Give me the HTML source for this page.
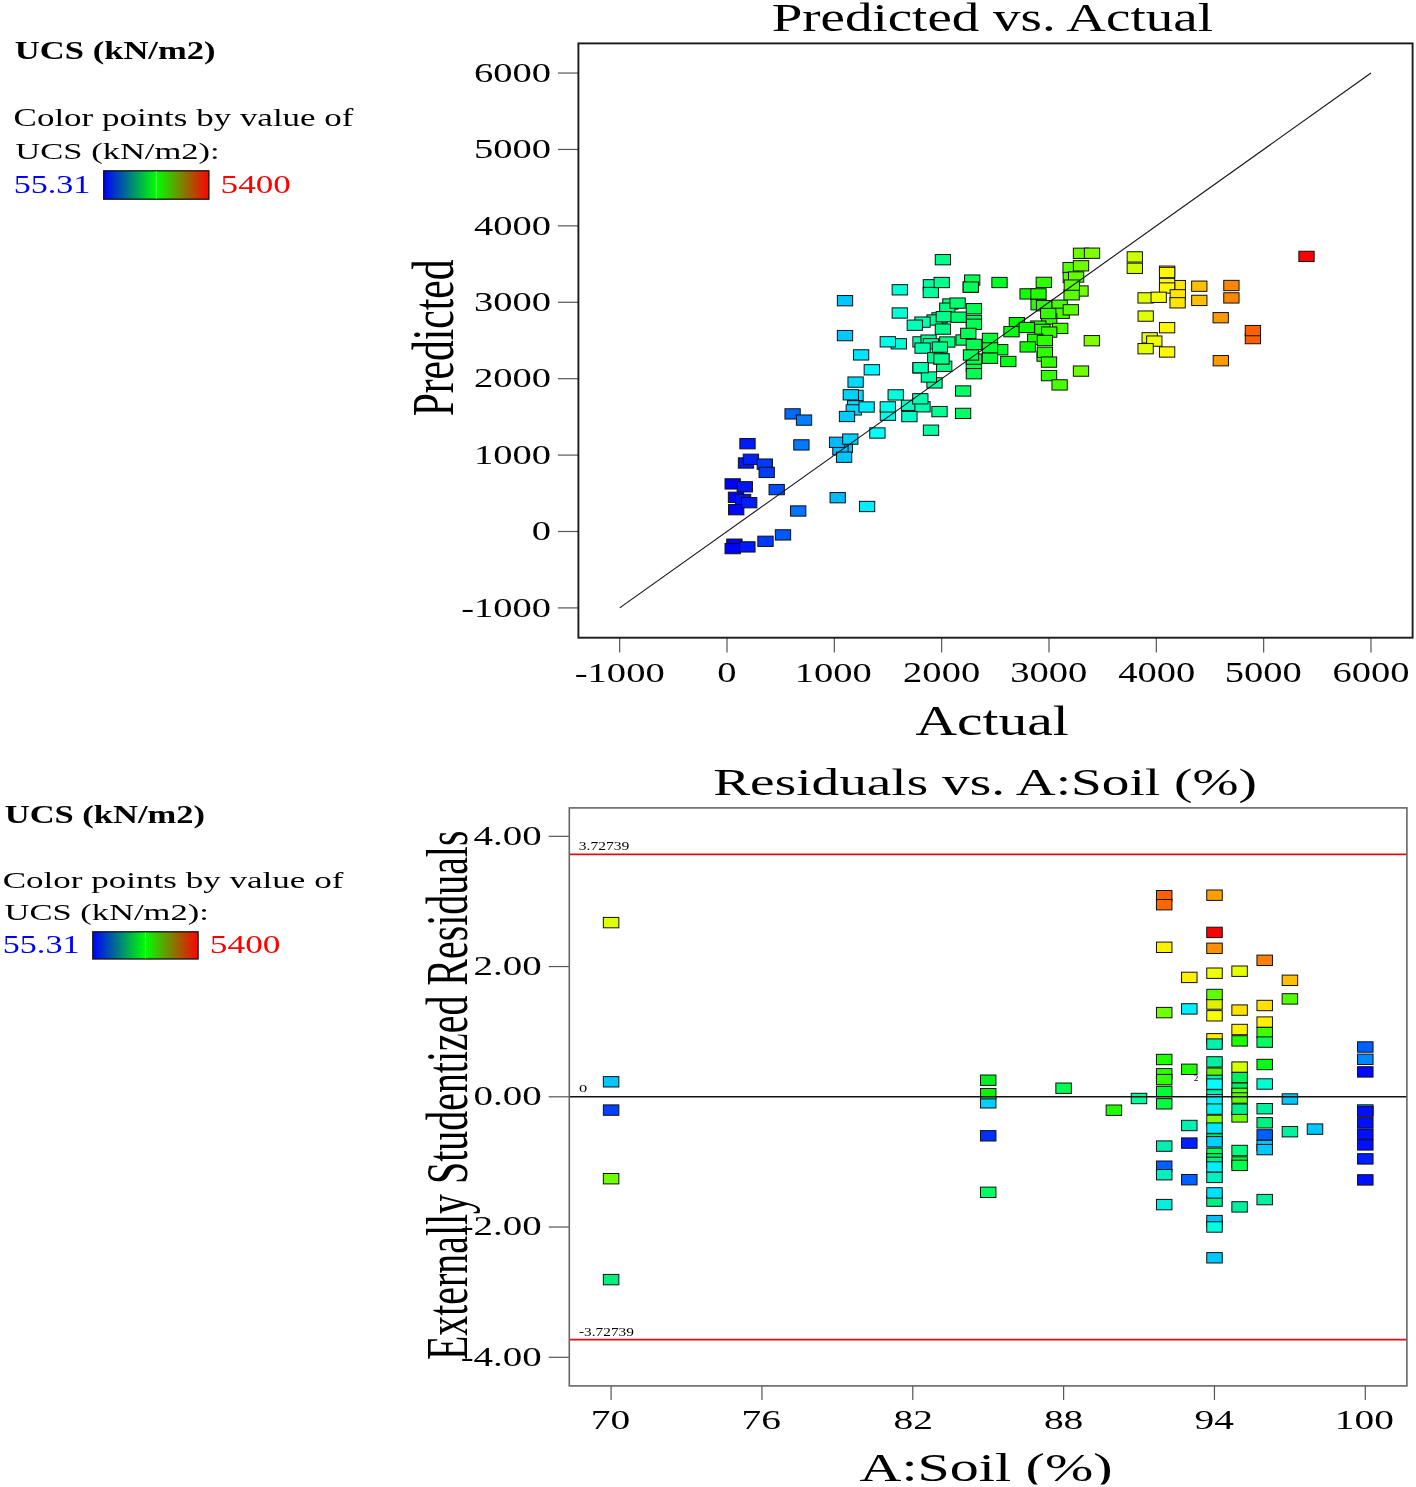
<!DOCTYPE html><html><head><meta charset="utf-8"><style>html,body{margin:0;padding:0;background:#fff;width:1416px;height:1487px;overflow:hidden}svg{display:block;will-change:transform}</style></head><body>
<svg width="1416" height="1487" viewBox="0 0 1416 1487">
<defs><linearGradient id="cb" x1="0" x2="1" y1="0" y2="0"><stop offset="0" stop-color="#0000ff"/><stop offset="0.5" stop-color="#00ff00"/><stop offset="1" stop-color="#ff0000"/></linearGradient><clipPath id="clipbot" clipPathUnits="userSpaceOnUse"><rect x="0" y="0" width="1416" height="1484.4"/></clipPath></defs>
<rect x="103.7" y="170.8" width="105.2" height="28.4" fill="url(#cb)" stroke="#111" stroke-width="1.3"/>
<line x1="156.3" y1="171.3" x2="156.3" y2="198.7" stroke="#66ff66" stroke-width="0.8"/>
<rect x="92.8" y="931.8" width="105.3" height="27.2" fill="url(#cb)" stroke="#111" stroke-width="1.3"/>
<line x1="145.4" y1="932.3" x2="145.4" y2="958.5" stroke="#66ff66" stroke-width="0.8"/>
<line x1="557.9" y1="607.91" x2="578" y2="607.91" stroke="#555" stroke-width="1.2"/>
<line x1="619.67" y1="637.5" x2="619.67" y2="652.4" stroke="#555" stroke-width="1.2"/>
<line x1="557.9" y1="531.50" x2="578" y2="531.50" stroke="#555" stroke-width="1.2"/>
<line x1="727.00" y1="637.5" x2="727.00" y2="652.4" stroke="#555" stroke-width="1.2"/>
<line x1="557.9" y1="455.09" x2="578" y2="455.09" stroke="#555" stroke-width="1.2"/>
<line x1="834.33" y1="637.5" x2="834.33" y2="652.4" stroke="#555" stroke-width="1.2"/>
<line x1="557.9" y1="378.68" x2="578" y2="378.68" stroke="#555" stroke-width="1.2"/>
<line x1="941.66" y1="637.5" x2="941.66" y2="652.4" stroke="#555" stroke-width="1.2"/>
<line x1="557.9" y1="302.27" x2="578" y2="302.27" stroke="#555" stroke-width="1.2"/>
<line x1="1048.99" y1="637.5" x2="1048.99" y2="652.4" stroke="#555" stroke-width="1.2"/>
<line x1="557.9" y1="225.86" x2="578" y2="225.86" stroke="#555" stroke-width="1.2"/>
<line x1="1156.32" y1="637.5" x2="1156.32" y2="652.4" stroke="#555" stroke-width="1.2"/>
<line x1="557.9" y1="149.45" x2="578" y2="149.45" stroke="#555" stroke-width="1.2"/>
<line x1="1263.65" y1="637.5" x2="1263.65" y2="652.4" stroke="#555" stroke-width="1.2"/>
<line x1="557.9" y1="73.04" x2="578" y2="73.04" stroke="#555" stroke-width="1.2"/>
<line x1="1370.98" y1="637.5" x2="1370.98" y2="652.4" stroke="#555" stroke-width="1.2"/>
<rect x="738.35" y="457.85" width="15.30" height="10.30" fill="#0017ff" stroke="#111" stroke-width="1"/>
<rect x="743.25" y="454.15" width="15.30" height="10.30" fill="#0020ff" stroke="#111" stroke-width="1"/>
<rect x="739.85" y="438.55" width="15.30" height="10.30" fill="#001aff" stroke="#111" stroke-width="1"/>
<rect x="757.15" y="458.95" width="15.30" height="10.30" fill="#0039ff" stroke="#111" stroke-width="1"/>
<rect x="759.05" y="467.25" width="15.30" height="10.30" fill="#003cff" stroke="#111" stroke-width="1"/>
<rect x="725.05" y="478.75" width="15.30" height="10.30" fill="#0000ff" stroke="#111" stroke-width="1"/>
<rect x="737.15" y="481.65" width="15.30" height="10.30" fill="#0015ff" stroke="#111" stroke-width="1"/>
<rect x="728.35" y="492.15" width="15.30" height="10.30" fill="#0005ff" stroke="#111" stroke-width="1"/>
<rect x="735.45" y="494.35" width="15.30" height="10.30" fill="#0012ff" stroke="#111" stroke-width="1"/>
<rect x="728.55" y="504.55" width="15.30" height="10.30" fill="#0006ff" stroke="#111" stroke-width="1"/>
<rect x="741.55" y="497.55" width="15.30" height="10.30" fill="#001dff" stroke="#111" stroke-width="1"/>
<rect x="769.05" y="484.45" width="15.30" height="10.30" fill="#004eff" stroke="#111" stroke-width="1"/>
<rect x="793.75" y="439.75" width="15.30" height="10.30" fill="#007aff" stroke="#111" stroke-width="1"/>
<rect x="790.55" y="505.85" width="15.30" height="10.30" fill="#0074ff" stroke="#111" stroke-width="1"/>
<rect x="726.75" y="539.05" width="15.30" height="10.30" fill="#0003ff" stroke="#111" stroke-width="1"/>
<rect x="725.05" y="543.45" width="15.30" height="10.30" fill="#0000ff" stroke="#111" stroke-width="1"/>
<rect x="739.75" y="541.75" width="15.30" height="10.30" fill="#001aff" stroke="#111" stroke-width="1"/>
<rect x="757.85" y="536.15" width="15.30" height="10.30" fill="#003aff" stroke="#111" stroke-width="1"/>
<rect x="775.35" y="529.75" width="15.30" height="10.30" fill="#0059ff" stroke="#111" stroke-width="1"/>
<rect x="830.05" y="492.55" width="15.30" height="10.30" fill="#00baff" stroke="#111" stroke-width="1"/>
<rect x="859.45" y="501.35" width="15.30" height="10.30" fill="#00efff" stroke="#111" stroke-width="1"/>
<rect x="784.95" y="408.75" width="15.30" height="10.30" fill="#006aff" stroke="#111" stroke-width="1"/>
<rect x="796.35" y="414.95" width="15.30" height="10.30" fill="#007eff" stroke="#111" stroke-width="1"/>
<rect x="853.45" y="349.75" width="15.30" height="10.30" fill="#00e4ff" stroke="#111" stroke-width="1"/>
<rect x="864.15" y="364.65" width="15.30" height="10.30" fill="#00f7ff" stroke="#111" stroke-width="1"/>
<rect x="847.95" y="376.95" width="15.30" height="10.30" fill="#00daff" stroke="#111" stroke-width="1"/>
<rect x="847.85" y="390.25" width="15.30" height="10.30" fill="#00daff" stroke="#111" stroke-width="1"/>
<rect x="847.55" y="400.65" width="15.30" height="10.30" fill="#00d9ff" stroke="#111" stroke-width="1"/>
<rect x="843.15" y="389.65" width="15.30" height="10.30" fill="#00d2ff" stroke="#111" stroke-width="1"/>
<rect x="846.15" y="404.75" width="15.30" height="10.30" fill="#00d7ff" stroke="#111" stroke-width="1"/>
<rect x="858.95" y="401.85" width="15.30" height="10.30" fill="#00eeff" stroke="#111" stroke-width="1"/>
<rect x="839.35" y="411.35" width="15.30" height="10.30" fill="#00cbff" stroke="#111" stroke-width="1"/>
<rect x="837.15" y="442.15" width="15.30" height="10.30" fill="#00c7ff" stroke="#111" stroke-width="1"/>
<rect x="832.75" y="444.65" width="15.30" height="10.30" fill="#00bfff" stroke="#111" stroke-width="1"/>
<rect x="829.45" y="437.15" width="15.30" height="10.30" fill="#00b9ff" stroke="#111" stroke-width="1"/>
<rect x="842.65" y="433.95" width="15.30" height="10.30" fill="#00d1ff" stroke="#111" stroke-width="1"/>
<rect x="836.45" y="452.05" width="15.30" height="10.30" fill="#00c6ff" stroke="#111" stroke-width="1"/>
<rect x="869.75" y="427.85" width="15.30" height="10.30" fill="#00fffd" stroke="#111" stroke-width="1"/>
<rect x="888.05" y="389.75" width="15.30" height="10.30" fill="#00ffdd" stroke="#111" stroke-width="1"/>
<rect x="880.25" y="410.05" width="15.30" height="10.30" fill="#00ffea" stroke="#111" stroke-width="1"/>
<rect x="880.15" y="401.75" width="15.30" height="10.30" fill="#00ffeb" stroke="#111" stroke-width="1"/>
<rect x="901.35" y="400.15" width="15.30" height="10.30" fill="#00ffc5" stroke="#111" stroke-width="1"/>
<rect x="914.85" y="401.65" width="15.30" height="10.30" fill="#00ffad" stroke="#111" stroke-width="1"/>
<rect x="912.65" y="393.65" width="15.30" height="10.30" fill="#00ffb1" stroke="#111" stroke-width="1"/>
<rect x="901.75" y="411.45" width="15.30" height="10.30" fill="#00ffc4" stroke="#111" stroke-width="1"/>
<rect x="931.85" y="406.45" width="15.30" height="10.30" fill="#00ff8f" stroke="#111" stroke-width="1"/>
<rect x="923.35" y="425.05" width="15.30" height="10.30" fill="#00ff9e" stroke="#111" stroke-width="1"/>
<rect x="912.85" y="362.75" width="15.30" height="10.30" fill="#00ffb0" stroke="#111" stroke-width="1"/>
<rect x="926.85" y="377.75" width="15.30" height="10.30" fill="#00ff98" stroke="#111" stroke-width="1"/>
<rect x="921.25" y="371.85" width="15.30" height="10.30" fill="#00ffa2" stroke="#111" stroke-width="1"/>
<rect x="936.55" y="361.15" width="15.30" height="10.30" fill="#00ff86" stroke="#111" stroke-width="1"/>
<rect x="933.55" y="353.65" width="15.30" height="10.30" fill="#00ff8c" stroke="#111" stroke-width="1"/>
<rect x="992.55" y="344.55" width="15.30" height="10.30" fill="#00ff23" stroke="#111" stroke-width="1"/>
<rect x="935.25" y="254.55" width="15.30" height="10.30" fill="#00ff89" stroke="#111" stroke-width="1"/>
<rect x="837.35" y="295.55" width="15.30" height="10.30" fill="#00c7ff" stroke="#111" stroke-width="1"/>
<rect x="837.35" y="330.45" width="15.30" height="10.30" fill="#00c7ff" stroke="#111" stroke-width="1"/>
<rect x="892.15" y="284.65" width="15.30" height="10.30" fill="#00ffd5" stroke="#111" stroke-width="1"/>
<rect x="892.15" y="307.85" width="15.30" height="10.30" fill="#00ffd5" stroke="#111" stroke-width="1"/>
<rect x="891.15" y="338.65" width="15.30" height="10.30" fill="#00ffd7" stroke="#111" stroke-width="1"/>
<rect x="880.15" y="336.65" width="15.30" height="10.30" fill="#00ffeb" stroke="#111" stroke-width="1"/>
<rect x="923.25" y="279.65" width="15.30" height="10.30" fill="#00ff9e" stroke="#111" stroke-width="1"/>
<rect x="923.15" y="287.35" width="15.30" height="10.30" fill="#00ff9e" stroke="#111" stroke-width="1"/>
<rect x="934.05" y="277.35" width="15.30" height="10.30" fill="#00ff8b" stroke="#111" stroke-width="1"/>
<rect x="963.15" y="281.95" width="15.30" height="10.30" fill="#00ff57" stroke="#111" stroke-width="1"/>
<rect x="942.75" y="298.85" width="15.30" height="10.30" fill="#00ff7b" stroke="#111" stroke-width="1"/>
<rect x="939.65" y="303.05" width="15.30" height="10.30" fill="#00ff81" stroke="#111" stroke-width="1"/>
<rect x="949.95" y="297.95" width="15.30" height="10.30" fill="#00ff6f" stroke="#111" stroke-width="1"/>
<rect x="966.25" y="315.25" width="15.30" height="10.30" fill="#00ff52" stroke="#111" stroke-width="1"/>
<rect x="966.25" y="303.55" width="15.30" height="10.30" fill="#00ff52" stroke="#111" stroke-width="1"/>
<rect x="966.25" y="319.15" width="15.30" height="10.30" fill="#00ff52" stroke="#111" stroke-width="1"/>
<rect x="931.85" y="312.75" width="15.30" height="10.30" fill="#00ff8f" stroke="#111" stroke-width="1"/>
<rect x="926.95" y="314.85" width="15.30" height="10.30" fill="#00ff97" stroke="#111" stroke-width="1"/>
<rect x="914.85" y="316.95" width="15.30" height="10.30" fill="#00ffad" stroke="#111" stroke-width="1"/>
<rect x="907.15" y="320.05" width="15.30" height="10.30" fill="#00ffbb" stroke="#111" stroke-width="1"/>
<rect x="936.15" y="311.55" width="15.30" height="10.30" fill="#00ff87" stroke="#111" stroke-width="1"/>
<rect x="950.95" y="312.05" width="15.30" height="10.30" fill="#00ff6d" stroke="#111" stroke-width="1"/>
<rect x="935.25" y="323.95" width="15.30" height="10.30" fill="#00ff89" stroke="#111" stroke-width="1"/>
<rect x="955.95" y="334.85" width="15.30" height="10.30" fill="#00ff64" stroke="#111" stroke-width="1"/>
<rect x="960.65" y="328.25" width="15.30" height="10.30" fill="#00ff5b" stroke="#111" stroke-width="1"/>
<rect x="982.35" y="333.25" width="15.30" height="10.30" fill="#00ff35" stroke="#111" stroke-width="1"/>
<rect x="982.35" y="342.75" width="15.30" height="10.30" fill="#00ff35" stroke="#111" stroke-width="1"/>
<rect x="982.35" y="353.05" width="15.30" height="10.30" fill="#00ff35" stroke="#111" stroke-width="1"/>
<rect x="966.15" y="339.25" width="15.30" height="10.30" fill="#00ff52" stroke="#111" stroke-width="1"/>
<rect x="912.85" y="336.75" width="15.30" height="10.30" fill="#00ffb0" stroke="#111" stroke-width="1"/>
<rect x="920.95" y="334.95" width="15.30" height="10.30" fill="#00ffa2" stroke="#111" stroke-width="1"/>
<rect x="939.65" y="336.85" width="15.30" height="10.30" fill="#00ff81" stroke="#111" stroke-width="1"/>
<rect x="923.25" y="338.65" width="15.30" height="10.30" fill="#00ff9e" stroke="#111" stroke-width="1"/>
<rect x="914.95" y="342.95" width="15.30" height="10.30" fill="#00ffad" stroke="#111" stroke-width="1"/>
<rect x="932.25" y="341.95" width="15.30" height="10.30" fill="#00ff8e" stroke="#111" stroke-width="1"/>
<rect x="927.65" y="352.65" width="15.30" height="10.30" fill="#00ff96" stroke="#111" stroke-width="1"/>
<rect x="933.85" y="353.75" width="15.30" height="10.30" fill="#00ff8b" stroke="#111" stroke-width="1"/>
<rect x="966.15" y="361.15" width="15.30" height="10.30" fill="#00ff52" stroke="#111" stroke-width="1"/>
<rect x="912.95" y="362.55" width="15.30" height="10.30" fill="#00ffb0" stroke="#111" stroke-width="1"/>
<rect x="964.55" y="274.95" width="15.30" height="10.30" fill="#00ff55" stroke="#111" stroke-width="1"/>
<rect x="963.15" y="281.95" width="15.30" height="10.30" fill="#00ff57" stroke="#111" stroke-width="1"/>
<rect x="991.85" y="277.35" width="15.30" height="10.30" fill="#00ff24" stroke="#111" stroke-width="1"/>
<rect x="1036.15" y="277.25" width="15.30" height="10.30" fill="#2bff00" stroke="#111" stroke-width="1"/>
<rect x="1019.95" y="288.75" width="15.30" height="10.30" fill="#0eff00" stroke="#111" stroke-width="1"/>
<rect x="1030.95" y="299.55" width="15.30" height="10.30" fill="#22ff00" stroke="#111" stroke-width="1"/>
<rect x="1030.85" y="288.75" width="15.30" height="10.30" fill="#21ff00" stroke="#111" stroke-width="1"/>
<rect x="1036.45" y="300.55" width="15.30" height="10.30" fill="#2bff00" stroke="#111" stroke-width="1"/>
<rect x="1052.05" y="300.05" width="15.30" height="10.30" fill="#47ff00" stroke="#111" stroke-width="1"/>
<rect x="1054.05" y="308.15" width="15.30" height="10.30" fill="#4bff00" stroke="#111" stroke-width="1"/>
<rect x="1063.15" y="304.65" width="15.30" height="10.30" fill="#5bff00" stroke="#111" stroke-width="1"/>
<rect x="1041.55" y="313.85" width="15.30" height="10.30" fill="#34ff00" stroke="#111" stroke-width="1"/>
<rect x="1040.55" y="308.35" width="15.30" height="10.30" fill="#33ff00" stroke="#111" stroke-width="1"/>
<rect x="1009.25" y="317.55" width="15.30" height="10.30" fill="#00ff05" stroke="#111" stroke-width="1"/>
<rect x="1030.65" y="320.95" width="15.30" height="10.30" fill="#21ff00" stroke="#111" stroke-width="1"/>
<rect x="1034.75" y="324.25" width="15.30" height="10.30" fill="#28ff00" stroke="#111" stroke-width="1"/>
<rect x="1003.85" y="326.55" width="15.30" height="10.30" fill="#00ff0f" stroke="#111" stroke-width="1"/>
<rect x="1019.15" y="322.35" width="15.30" height="10.30" fill="#0dff00" stroke="#111" stroke-width="1"/>
<rect x="1052.55" y="323.25" width="15.30" height="10.30" fill="#48ff00" stroke="#111" stroke-width="1"/>
<rect x="1041.55" y="326.95" width="15.30" height="10.30" fill="#34ff00" stroke="#111" stroke-width="1"/>
<rect x="1027.55" y="334.15" width="15.30" height="10.30" fill="#1bff00" stroke="#111" stroke-width="1"/>
<rect x="1037.25" y="335.35" width="15.30" height="10.30" fill="#2dff00" stroke="#111" stroke-width="1"/>
<rect x="1020.05" y="341.75" width="15.30" height="10.30" fill="#0eff00" stroke="#111" stroke-width="1"/>
<rect x="1036.95" y="350.95" width="15.30" height="10.30" fill="#2cff00" stroke="#111" stroke-width="1"/>
<rect x="1037.25" y="347.15" width="15.30" height="10.30" fill="#2dff00" stroke="#111" stroke-width="1"/>
<rect x="1062.95" y="262.45" width="15.30" height="10.30" fill="#5aff00" stroke="#111" stroke-width="1"/>
<rect x="1063.15" y="272.35" width="15.30" height="10.30" fill="#5bff00" stroke="#111" stroke-width="1"/>
<rect x="1073.35" y="248.15" width="15.30" height="10.30" fill="#6dff00" stroke="#111" stroke-width="1"/>
<rect x="1084.35" y="248.05" width="15.30" height="10.30" fill="#80ff00" stroke="#111" stroke-width="1"/>
<rect x="1073.35" y="260.65" width="15.30" height="10.30" fill="#6dff00" stroke="#111" stroke-width="1"/>
<rect x="1068.45" y="271.85" width="15.30" height="10.30" fill="#64ff00" stroke="#111" stroke-width="1"/>
<rect x="1072.85" y="285.85" width="15.30" height="10.30" fill="#6cff00" stroke="#111" stroke-width="1"/>
<rect x="1063.95" y="289.65" width="15.30" height="10.30" fill="#5cff00" stroke="#111" stroke-width="1"/>
<rect x="1064.15" y="279.95" width="15.30" height="10.30" fill="#5dff00" stroke="#111" stroke-width="1"/>
<rect x="966.25" y="353.95" width="15.30" height="10.30" fill="#00ff52" stroke="#111" stroke-width="1"/>
<rect x="966.25" y="368.55" width="15.30" height="10.30" fill="#00ff52" stroke="#111" stroke-width="1"/>
<rect x="963.35" y="349.85" width="15.30" height="10.30" fill="#00ff57" stroke="#111" stroke-width="1"/>
<rect x="1000.65" y="356.35" width="15.30" height="10.30" fill="#00ff14" stroke="#111" stroke-width="1"/>
<rect x="1041.35" y="356.95" width="15.30" height="10.30" fill="#34ff00" stroke="#111" stroke-width="1"/>
<rect x="1041.35" y="370.45" width="15.30" height="10.30" fill="#34ff00" stroke="#111" stroke-width="1"/>
<rect x="1051.95" y="379.75" width="15.30" height="10.30" fill="#47ff00" stroke="#111" stroke-width="1"/>
<rect x="1073.35" y="365.95" width="15.30" height="10.30" fill="#6dff00" stroke="#111" stroke-width="1"/>
<rect x="955.45" y="385.85" width="15.30" height="10.30" fill="#00ff65" stroke="#111" stroke-width="1"/>
<rect x="955.45" y="408.25" width="15.30" height="10.30" fill="#00ff65" stroke="#111" stroke-width="1"/>
<rect x="1084.15" y="335.55" width="15.30" height="10.30" fill="#80ff00" stroke="#111" stroke-width="1"/>
<rect x="1127.15" y="251.75" width="15.30" height="10.30" fill="#cdff00" stroke="#111" stroke-width="1"/>
<rect x="1127.15" y="263.15" width="15.30" height="10.30" fill="#cdff00" stroke="#111" stroke-width="1"/>
<rect x="1170.15" y="280.45" width="15.30" height="10.30" fill="#ffe500" stroke="#111" stroke-width="1"/>
<rect x="1159.45" y="266.05" width="15.30" height="10.30" fill="#fff800" stroke="#111" stroke-width="1"/>
<rect x="1159.45" y="267.35" width="15.30" height="10.30" fill="#fff800" stroke="#111" stroke-width="1"/>
<rect x="1159.45" y="278.35" width="15.30" height="10.30" fill="#fff800" stroke="#111" stroke-width="1"/>
<rect x="1159.45" y="282.85" width="15.30" height="10.30" fill="#fff800" stroke="#111" stroke-width="1"/>
<rect x="1170.15" y="289.65" width="15.30" height="10.30" fill="#ffe500" stroke="#111" stroke-width="1"/>
<rect x="1169.95" y="297.65" width="15.30" height="10.30" fill="#ffe500" stroke="#111" stroke-width="1"/>
<rect x="1191.65" y="281.05" width="15.30" height="10.30" fill="#ffbf00" stroke="#111" stroke-width="1"/>
<rect x="1191.65" y="295.25" width="15.30" height="10.30" fill="#ffbf00" stroke="#111" stroke-width="1"/>
<rect x="1137.95" y="292.75" width="15.30" height="10.30" fill="#e0ff00" stroke="#111" stroke-width="1"/>
<rect x="1151.05" y="292.15" width="15.30" height="10.30" fill="#f7ff00" stroke="#111" stroke-width="1"/>
<rect x="1138.05" y="310.95" width="15.30" height="10.30" fill="#e0ff00" stroke="#111" stroke-width="1"/>
<rect x="1159.45" y="322.55" width="15.30" height="10.30" fill="#fff800" stroke="#111" stroke-width="1"/>
<rect x="1142.05" y="332.65" width="15.30" height="10.30" fill="#e7ff00" stroke="#111" stroke-width="1"/>
<rect x="1146.65" y="335.95" width="15.30" height="10.30" fill="#efff00" stroke="#111" stroke-width="1"/>
<rect x="1137.95" y="343.55" width="15.30" height="10.30" fill="#e0ff00" stroke="#111" stroke-width="1"/>
<rect x="1159.45" y="346.85" width="15.30" height="10.30" fill="#fff800" stroke="#111" stroke-width="1"/>
<rect x="1213.15" y="355.55" width="15.30" height="10.30" fill="#ff9900" stroke="#111" stroke-width="1"/>
<rect x="1245.25" y="333.45" width="15.30" height="10.30" fill="#ff5f00" stroke="#111" stroke-width="1"/>
<rect x="1245.25" y="325.45" width="15.30" height="10.30" fill="#ff5f00" stroke="#111" stroke-width="1"/>
<rect x="1298.85" y="251.25" width="15.30" height="10.30" fill="#ff0000" stroke="#111" stroke-width="1"/>
<rect x="1223.75" y="280.35" width="15.30" height="10.30" fill="#ff8600" stroke="#111" stroke-width="1"/>
<rect x="1223.75" y="292.75" width="15.30" height="10.30" fill="#ff8600" stroke="#111" stroke-width="1"/>
<rect x="1213.05" y="312.55" width="15.30" height="10.30" fill="#ff9900" stroke="#111" stroke-width="1"/>
<line x1="619.67" y1="607.91" x2="1370.98" y2="73.04" stroke="#111" stroke-width="1.1"/>
<rect x="578.4" y="43.4" width="834.2" height="594.3" fill="none" stroke="#1a1a1a" stroke-width="1.9"/>
<line x1="548.7" y1="836.32" x2="569" y2="836.32" stroke="#555" stroke-width="1.2"/>
<line x1="548.7" y1="966.56" x2="569" y2="966.56" stroke="#555" stroke-width="1.2"/>
<line x1="548.7" y1="1096.80" x2="569" y2="1096.80" stroke="#555" stroke-width="1.2"/>
<line x1="548.7" y1="1227.04" x2="569" y2="1227.04" stroke="#555" stroke-width="1.2"/>
<line x1="548.7" y1="1357.28" x2="569" y2="1357.28" stroke="#555" stroke-width="1.2"/>
<line x1="611.10" y1="1386" x2="611.10" y2="1400" stroke="#555" stroke-width="1.2"/>
<line x1="761.94" y1="1386" x2="761.94" y2="1400" stroke="#555" stroke-width="1.2"/>
<line x1="912.78" y1="1386" x2="912.78" y2="1400" stroke="#555" stroke-width="1.2"/>
<line x1="1063.62" y1="1386" x2="1063.62" y2="1400" stroke="#555" stroke-width="1.2"/>
<line x1="1214.46" y1="1386" x2="1214.46" y2="1400" stroke="#555" stroke-width="1.2"/>
<line x1="1365.30" y1="1386" x2="1365.30" y2="1400" stroke="#555" stroke-width="1.2"/>
<rect x="603.35" y="917.40" width="15.50" height="10.40" fill="#e0ff00" stroke="#111" stroke-width="1"/>
<rect x="603.35" y="1076.60" width="15.50" height="10.40" fill="#00c8ff" stroke="#111" stroke-width="1"/>
<rect x="603.35" y="1104.90" width="15.50" height="10.40" fill="#0040ff" stroke="#111" stroke-width="1"/>
<rect x="603.35" y="1173.50" width="15.50" height="10.40" fill="#70ff00" stroke="#111" stroke-width="1"/>
<rect x="603.35" y="1274.40" width="15.50" height="10.40" fill="#00f080" stroke="#111" stroke-width="1"/>
<rect x="980.45" y="1075.00" width="15.50" height="10.40" fill="#00f020" stroke="#111" stroke-width="1"/>
<rect x="980.45" y="1097.60" width="15.50" height="10.40" fill="#00d0ff" stroke="#111" stroke-width="1"/>
<rect x="980.45" y="1088.50" width="15.50" height="10.40" fill="#10f000" stroke="#111" stroke-width="1"/>
<rect x="980.45" y="1130.60" width="15.50" height="10.40" fill="#0030ff" stroke="#111" stroke-width="1"/>
<rect x="980.45" y="1187.10" width="15.50" height="10.40" fill="#00ff60" stroke="#111" stroke-width="1"/>
<rect x="1055.85" y="1083.00" width="15.50" height="10.40" fill="#00ff50" stroke="#111" stroke-width="1"/>
<rect x="1106.15" y="1105.00" width="15.50" height="10.40" fill="#20ff00" stroke="#111" stroke-width="1"/>
<rect x="1131.25" y="1093.30" width="15.50" height="10.40" fill="#00ffa0" stroke="#111" stroke-width="1"/>
<rect x="1156.45" y="890.50" width="15.50" height="10.40" fill="#ff6000" stroke="#111" stroke-width="1"/>
<rect x="1156.45" y="899.50" width="15.50" height="10.40" fill="#ff6600" stroke="#111" stroke-width="1"/>
<rect x="1156.45" y="942.10" width="15.50" height="10.40" fill="#fff000" stroke="#111" stroke-width="1"/>
<rect x="1156.45" y="1007.40" width="15.50" height="10.40" fill="#70ff00" stroke="#111" stroke-width="1"/>
<rect x="1156.45" y="1054.30" width="15.50" height="10.40" fill="#20ff00" stroke="#111" stroke-width="1"/>
<rect x="1156.45" y="1068.60" width="15.50" height="10.40" fill="#30ff00" stroke="#111" stroke-width="1"/>
<rect x="1156.45" y="1074.40" width="15.50" height="10.40" fill="#30ff00" stroke="#111" stroke-width="1"/>
<rect x="1156.45" y="1086.30" width="15.50" height="10.40" fill="#00ff30" stroke="#111" stroke-width="1"/>
<rect x="1156.45" y="1098.60" width="15.50" height="10.40" fill="#00ff40" stroke="#111" stroke-width="1"/>
<rect x="1156.45" y="1140.90" width="15.50" height="10.40" fill="#00f0b0" stroke="#111" stroke-width="1"/>
<rect x="1156.45" y="1161.00" width="15.50" height="10.40" fill="#0060ff" stroke="#111" stroke-width="1"/>
<rect x="1156.45" y="1169.50" width="15.50" height="10.40" fill="#00f0c0" stroke="#111" stroke-width="1"/>
<rect x="1156.45" y="1199.40" width="15.50" height="10.40" fill="#00f0e0" stroke="#111" stroke-width="1"/>
<rect x="1181.55" y="972.20" width="15.50" height="10.40" fill="#fff000" stroke="#111" stroke-width="1"/>
<rect x="1181.55" y="1003.70" width="15.50" height="10.40" fill="#00f0ff" stroke="#111" stroke-width="1"/>
<rect x="1181.55" y="1064.10" width="15.50" height="10.40" fill="#20ff00" stroke="#111" stroke-width="1"/>
<rect x="1181.55" y="1120.30" width="15.50" height="10.40" fill="#00f0b0" stroke="#111" stroke-width="1"/>
<rect x="1181.55" y="1137.90" width="15.50" height="10.40" fill="#0020ff" stroke="#111" stroke-width="1"/>
<rect x="1181.55" y="1174.50" width="15.50" height="10.40" fill="#0060ff" stroke="#111" stroke-width="1"/>
<rect x="1206.75" y="890.00" width="15.50" height="10.40" fill="#ffa000" stroke="#111" stroke-width="1"/>
<rect x="1206.75" y="927.20" width="15.50" height="10.40" fill="#ff0000" stroke="#111" stroke-width="1"/>
<rect x="1206.75" y="943.10" width="15.50" height="10.40" fill="#ff9000" stroke="#111" stroke-width="1"/>
<rect x="1206.75" y="968.00" width="15.50" height="10.40" fill="#f0ff00" stroke="#111" stroke-width="1"/>
<rect x="1206.75" y="998.80" width="15.50" height="10.40" fill="#e0f000" stroke="#111" stroke-width="1"/>
<rect x="1206.75" y="989.30" width="15.50" height="10.40" fill="#60ff00" stroke="#111" stroke-width="1"/>
<rect x="1206.75" y="1010.60" width="15.50" height="10.40" fill="#f8ff00" stroke="#111" stroke-width="1"/>
<rect x="1206.75" y="1033.60" width="15.50" height="10.40" fill="#ffee00" stroke="#111" stroke-width="1"/>
<rect x="1206.75" y="1038.90" width="15.50" height="10.40" fill="#00f0b0" stroke="#111" stroke-width="1"/>
<rect x="1206.75" y="1056.70" width="15.50" height="10.40" fill="#00f0a0" stroke="#111" stroke-width="1"/>
<rect x="1206.75" y="1068.00" width="15.50" height="10.40" fill="#60f000" stroke="#111" stroke-width="1"/>
<rect x="1206.75" y="1075.20" width="15.50" height="10.40" fill="#00f0b0" stroke="#111" stroke-width="1"/>
<rect x="1206.75" y="1078.90" width="15.50" height="10.40" fill="#00ffff" stroke="#111" stroke-width="1"/>
<rect x="1206.75" y="1089.70" width="15.50" height="10.40" fill="#00f0b0" stroke="#111" stroke-width="1"/>
<rect x="1206.75" y="1094.50" width="15.50" height="10.40" fill="#00f0ff" stroke="#111" stroke-width="1"/>
<rect x="1206.75" y="1103.90" width="15.50" height="10.40" fill="#00f0f0" stroke="#111" stroke-width="1"/>
<rect x="1206.75" y="1115.20" width="15.50" height="10.40" fill="#80ff00" stroke="#111" stroke-width="1"/>
<rect x="1206.75" y="1122.90" width="15.50" height="10.40" fill="#00e8ff" stroke="#111" stroke-width="1"/>
<rect x="1206.75" y="1133.80" width="15.50" height="10.40" fill="#00f060" stroke="#111" stroke-width="1"/>
<rect x="1206.75" y="1136.60" width="15.50" height="10.40" fill="#00d0ff" stroke="#111" stroke-width="1"/>
<rect x="1206.75" y="1148.10" width="15.50" height="10.40" fill="#00ff50" stroke="#111" stroke-width="1"/>
<rect x="1206.75" y="1153.60" width="15.50" height="10.40" fill="#00f060" stroke="#111" stroke-width="1"/>
<rect x="1206.75" y="1157.20" width="15.50" height="10.40" fill="#00f080" stroke="#111" stroke-width="1"/>
<rect x="1206.75" y="1161.80" width="15.50" height="10.40" fill="#00f0ff" stroke="#111" stroke-width="1"/>
<rect x="1206.75" y="1172.20" width="15.50" height="10.40" fill="#00f0c0" stroke="#111" stroke-width="1"/>
<rect x="1206.75" y="1195.90" width="15.50" height="10.40" fill="#00f080" stroke="#111" stroke-width="1"/>
<rect x="1206.75" y="1187.70" width="15.50" height="10.40" fill="#00e0ff" stroke="#111" stroke-width="1"/>
<rect x="1206.75" y="1215.40" width="15.50" height="10.40" fill="#00c0ff" stroke="#111" stroke-width="1"/>
<rect x="1206.75" y="1221.80" width="15.50" height="10.40" fill="#00ffe0" stroke="#111" stroke-width="1"/>
<rect x="1206.75" y="1252.60" width="15.50" height="10.40" fill="#00c8ff" stroke="#111" stroke-width="1"/>
<rect x="1231.85" y="966.00" width="15.50" height="10.40" fill="#e8ff00" stroke="#111" stroke-width="1"/>
<rect x="1231.85" y="1004.90" width="15.50" height="10.40" fill="#ffe000" stroke="#111" stroke-width="1"/>
<rect x="1231.85" y="1024.30" width="15.50" height="10.40" fill="#fff000" stroke="#111" stroke-width="1"/>
<rect x="1231.85" y="1035.70" width="15.50" height="10.40" fill="#20ff00" stroke="#111" stroke-width="1"/>
<rect x="1231.85" y="1061.90" width="15.50" height="10.40" fill="#d8ff00" stroke="#111" stroke-width="1"/>
<rect x="1231.85" y="1072.40" width="15.50" height="10.40" fill="#00f060" stroke="#111" stroke-width="1"/>
<rect x="1231.85" y="1083.00" width="15.50" height="10.40" fill="#00f060" stroke="#111" stroke-width="1"/>
<rect x="1231.85" y="1088.20" width="15.50" height="10.40" fill="#60ff00" stroke="#111" stroke-width="1"/>
<rect x="1231.85" y="1092.80" width="15.50" height="10.40" fill="#60ff00" stroke="#111" stroke-width="1"/>
<rect x="1231.85" y="1111.70" width="15.50" height="10.40" fill="#70ff00" stroke="#111" stroke-width="1"/>
<rect x="1231.85" y="1104.00" width="15.50" height="10.40" fill="#00f090" stroke="#111" stroke-width="1"/>
<rect x="1231.85" y="1145.30" width="15.50" height="10.40" fill="#00ff80" stroke="#111" stroke-width="1"/>
<rect x="1231.85" y="1156.80" width="15.50" height="10.40" fill="#00ff30" stroke="#111" stroke-width="1"/>
<rect x="1231.85" y="1160.20" width="15.50" height="10.40" fill="#00ff50" stroke="#111" stroke-width="1"/>
<rect x="1231.85" y="1201.70" width="15.50" height="10.40" fill="#00f0a0" stroke="#111" stroke-width="1"/>
<rect x="1256.95" y="955.10" width="15.50" height="10.40" fill="#ff8000" stroke="#111" stroke-width="1"/>
<rect x="1256.95" y="1000.30" width="15.50" height="10.40" fill="#ffe000" stroke="#111" stroke-width="1"/>
<rect x="1256.95" y="1016.90" width="15.50" height="10.40" fill="#fff000" stroke="#111" stroke-width="1"/>
<rect x="1256.95" y="1027.40" width="15.50" height="10.40" fill="#40ff00" stroke="#111" stroke-width="1"/>
<rect x="1256.95" y="1036.90" width="15.50" height="10.40" fill="#00ff60" stroke="#111" stroke-width="1"/>
<rect x="1256.95" y="1059.30" width="15.50" height="10.40" fill="#00ff10" stroke="#111" stroke-width="1"/>
<rect x="1256.95" y="1078.80" width="15.50" height="10.40" fill="#00ffd0" stroke="#111" stroke-width="1"/>
<rect x="1256.95" y="1103.50" width="15.50" height="10.40" fill="#00f0a0" stroke="#111" stroke-width="1"/>
<rect x="1256.95" y="1117.60" width="15.50" height="10.40" fill="#00f080" stroke="#111" stroke-width="1"/>
<rect x="1256.95" y="1129.70" width="15.50" height="10.40" fill="#0060ff" stroke="#111" stroke-width="1"/>
<rect x="1256.95" y="1140.30" width="15.50" height="10.40" fill="#00c8ff" stroke="#111" stroke-width="1"/>
<rect x="1256.95" y="1144.40" width="15.50" height="10.40" fill="#00c8ff" stroke="#111" stroke-width="1"/>
<rect x="1256.95" y="1194.40" width="15.50" height="10.40" fill="#00f0a0" stroke="#111" stroke-width="1"/>
<rect x="1282.15" y="975.10" width="15.50" height="10.40" fill="#ffc000" stroke="#111" stroke-width="1"/>
<rect x="1282.15" y="993.70" width="15.50" height="10.40" fill="#50ff00" stroke="#111" stroke-width="1"/>
<rect x="1282.15" y="1093.80" width="15.50" height="10.40" fill="#00c8ff" stroke="#111" stroke-width="1"/>
<rect x="1282.15" y="1126.50" width="15.50" height="10.40" fill="#00f0a0" stroke="#111" stroke-width="1"/>
<rect x="1307.25" y="1123.90" width="15.50" height="10.40" fill="#00c8ff" stroke="#111" stroke-width="1"/>
<rect x="1357.55" y="1041.80" width="15.50" height="10.40" fill="#0060ff" stroke="#111" stroke-width="1"/>
<rect x="1357.55" y="1054.10" width="15.50" height="10.40" fill="#0088ff" stroke="#111" stroke-width="1"/>
<rect x="1357.55" y="1066.70" width="15.50" height="10.40" fill="#0008ff" stroke="#111" stroke-width="1"/>
<rect x="1357.55" y="1104.80" width="15.50" height="10.40" fill="#00a0ff" stroke="#111" stroke-width="1"/>
<rect x="1357.55" y="1106.40" width="15.50" height="10.40" fill="#0010ff" stroke="#111" stroke-width="1"/>
<rect x="1357.55" y="1117.70" width="15.50" height="10.40" fill="#0010ff" stroke="#111" stroke-width="1"/>
<rect x="1357.55" y="1129.00" width="15.50" height="10.40" fill="#0010ff" stroke="#111" stroke-width="1"/>
<rect x="1357.55" y="1139.70" width="15.50" height="10.40" fill="#0010ff" stroke="#111" stroke-width="1"/>
<rect x="1357.55" y="1153.70" width="15.50" height="10.40" fill="#0020ff" stroke="#111" stroke-width="1"/>
<rect x="1357.55" y="1174.70" width="15.50" height="10.40" fill="#0010ff" stroke="#111" stroke-width="1"/>
<line x1="569.3" y1="854.4" x2="1406.9" y2="854.4" stroke="#dc1010" stroke-width="1.9"/>
<line x1="569.3" y1="1339.6" x2="1406.9" y2="1339.6" stroke="#dc1010" stroke-width="1.9"/>
<line x1="569.3" y1="1096.8" x2="1406.9" y2="1096.8" stroke="#111" stroke-width="1.6"/>
<rect x="569.3" y="807.9" width="837.6" height="578.0" fill="none" stroke="#666" stroke-width="1.6"/>
<text transform="translate(14.81,58.70) scale(0.34599,0.26154)" font-family="Liberation Serif" font-weight="bold" font-size="100" fill="#000" xml:space="preserve">UCS (kN/m2)</text>
<text transform="translate(13.60,125.81) scale(0.34969,0.24239)" font-family="Liberation Serif" font-size="100" fill="#000" xml:space="preserve">Color points by value of</text>
<text transform="translate(15.31,158.70) scale(0.34553,0.23333)" font-family="Liberation Serif" font-size="100" fill="#000" xml:space="preserve">UCS (kN/m2):</text>
<text transform="translate(13.65,192.84) scale(0.34131,0.25672)" font-family="Liberation Serif" font-size="100" fill="#0000ff" xml:space="preserve">55.31</text>
<text transform="translate(220.59,192.59) scale(0.35105,0.25672)" font-family="Liberation Serif" font-size="100" fill="#ff0000" xml:space="preserve">5400</text>
<text transform="translate(4.71,822.70) scale(0.34512,0.24615)" font-family="Liberation Serif" font-weight="bold" font-size="100" fill="#000" xml:space="preserve">UCS (kN/m2)</text>
<text transform="translate(2.70,888.02) scale(0.35062,0.23696)" font-family="Liberation Serif" font-size="100" fill="#000" xml:space="preserve">Color points by value of</text>
<text transform="translate(4.61,919.92) scale(0.34519,0.23222)" font-family="Liberation Serif" font-size="100" fill="#000" xml:space="preserve">UCS (kN/m2):</text>
<text transform="translate(2.75,953.14) scale(0.34131,0.25522)" font-family="Liberation Serif" font-size="100" fill="#0000ff" xml:space="preserve">55.31</text>
<text transform="translate(209.78,952.89) scale(0.35368,0.25522)" font-family="Liberation Serif" font-size="100" fill="#ff0000" xml:space="preserve">5400</text>
<text transform="translate(771.65,30.60) scale(0.55000,0.39714)" font-family="Liberation Serif" font-size="100" fill="#000" xml:space="preserve">Predicted vs. Actual</text>
<text transform="translate(915.52,735.09) scale(0.57500,0.41143)" font-family="Liberation Serif" font-size="100" fill="#000" xml:space="preserve">Actual</text>
<text transform="translate(452.91,416.35) scale(0.58857,0.41555) rotate(-90)" font-family="Liberation Serif" font-size="100" fill="#000" xml:space="preserve">Predicted</text>
<text transform="translate(473.93,81.83) scale(0.38556,0.27910)" font-family="Liberation Serif" font-size="100" fill="#000" xml:space="preserve">6000</text>
<text transform="translate(473.93,158.24) scale(0.38556,0.27910)" font-family="Liberation Serif" font-size="100" fill="#000" xml:space="preserve">5000</text>
<text transform="translate(473.93,234.65) scale(0.38556,0.27910)" font-family="Liberation Serif" font-size="100" fill="#000" xml:space="preserve">4000</text>
<text transform="translate(473.93,311.06) scale(0.38556,0.27910)" font-family="Liberation Serif" font-size="100" fill="#000" xml:space="preserve">3000</text>
<text transform="translate(473.93,387.47) scale(0.38556,0.27910)" font-family="Liberation Serif" font-size="100" fill="#000" xml:space="preserve">2000</text>
<text transform="translate(473.93,463.89) scale(0.38556,0.27500)" font-family="Liberation Serif" font-size="100" fill="#000" xml:space="preserve">1000</text>
<text transform="translate(531.76,540.29) scale(0.38556,0.27910)" font-family="Liberation Serif" font-size="100" fill="#000" xml:space="preserve">0</text>
<text transform="translate(461.21,616.71) scale(0.38556,0.27500)" font-family="Liberation Serif" font-size="100" fill="#000" xml:space="preserve">-1000</text>
<text transform="translate(574.75,682.04) scale(0.38556,0.28088)" font-family="Liberation Serif" font-size="100" fill="#000" xml:space="preserve">-1000</text>
<text transform="translate(717.36,682.03) scale(0.38556,0.28507)" font-family="Liberation Serif" font-size="100" fill="#000" xml:space="preserve">0</text>
<text transform="translate(794.81,682.04) scale(0.38556,0.28088)" font-family="Liberation Serif" font-size="100" fill="#000" xml:space="preserve">1000</text>
<text transform="translate(903.10,682.03) scale(0.38556,0.28507)" font-family="Liberation Serif" font-size="100" fill="#000" xml:space="preserve">2000</text>
<text transform="translate(1010.24,682.03) scale(0.38556,0.28507)" font-family="Liberation Serif" font-size="100" fill="#000" xml:space="preserve">3000</text>
<text transform="translate(1118.15,682.03) scale(0.38556,0.28507)" font-family="Liberation Serif" font-size="100" fill="#000" xml:space="preserve">4000</text>
<text transform="translate(1224.71,682.03) scale(0.38556,0.28507)" font-family="Liberation Serif" font-size="100" fill="#000" xml:space="preserve">5000</text>
<text transform="translate(1332.42,682.03) scale(0.38556,0.28507)" font-family="Liberation Serif" font-size="100" fill="#000" xml:space="preserve">6000</text>
<text transform="translate(713.24,795.28) scale(0.55307,0.38667)" font-family="Liberation Serif" font-size="100" fill="#000" xml:space="preserve">Residuals vs. A:Soil (%)</text>
<g clip-path="url(#clipbot)"><text transform="translate(859.52,1480.90) scale(0.58051,0.40758)" font-family="Liberation Serif" font-size="100" fill="#000" xml:space="preserve">A:Soil (%)</text></g>
<text transform="translate(467.10,1360.10) scale(0.58556,0.39902) rotate(-90)" font-family="Liberation Serif" font-size="100" fill="#000" xml:space="preserve">Externally Studentized Residuals</text>
<text transform="translate(473.51,844.69) scale(0.39000,0.26567)" font-family="Liberation Serif" font-size="100" fill="#000" xml:space="preserve">4.00</text>
<text transform="translate(473.51,974.93) scale(0.39000,0.26567)" font-family="Liberation Serif" font-size="100" fill="#000" xml:space="preserve">2.00</text>
<text transform="translate(473.51,1105.17) scale(0.39000,0.26567)" font-family="Liberation Serif" font-size="100" fill="#000" xml:space="preserve">0.00</text>
<text transform="translate(460.64,1235.41) scale(0.39000,0.26567)" font-family="Liberation Serif" font-size="100" fill="#000" xml:space="preserve">-2.00</text>
<text transform="translate(460.64,1365.65) scale(0.39000,0.26567)" font-family="Liberation Serif" font-size="100" fill="#000" xml:space="preserve">-4.00</text>
<text transform="translate(590.81,1428.65) scale(0.39400,0.27612)" font-family="Liberation Serif" font-size="100" fill="#000" xml:space="preserve">70</text>
<text transform="translate(741.45,1428.65) scale(0.39400,0.27612)" font-family="Liberation Serif" font-size="100" fill="#000" xml:space="preserve">76</text>
<text transform="translate(893.47,1428.65) scale(0.39400,0.27612)" font-family="Liberation Serif" font-size="100" fill="#000" xml:space="preserve">82</text>
<text transform="translate(1043.92,1428.65) scale(0.39400,0.27612)" font-family="Liberation Serif" font-size="100" fill="#000" xml:space="preserve">88</text>
<text transform="translate(1194.56,1428.92) scale(0.39400,0.28030)" font-family="Liberation Serif" font-size="100" fill="#000" xml:space="preserve">94</text>
<text transform="translate(1334.77,1428.66) scale(0.39400,0.27206)" font-family="Liberation Serif" font-size="100" fill="#000" xml:space="preserve">100</text>
<text transform="translate(578.72,849.98) scale(0.15570,0.11970)" font-family="Liberation Serif" font-size="100" fill="#000" xml:space="preserve">3.72739</text>
<text transform="translate(578.99,1335.68) scale(0.15343,0.11970)" font-family="Liberation Serif" font-size="100" fill="#000" xml:space="preserve">-3.72739</text>
<text transform="translate(579.04,1092.19) scale(0.16429,0.10448)" font-family="Liberation Serif" font-size="100" fill="#000" xml:space="preserve">0</text>
<text transform="translate(1193.83,1081.10) scale(0.09250,0.07538)" font-family="Liberation Serif" font-size="100" fill="#000" xml:space="preserve">2</text>
</svg></body></html>
